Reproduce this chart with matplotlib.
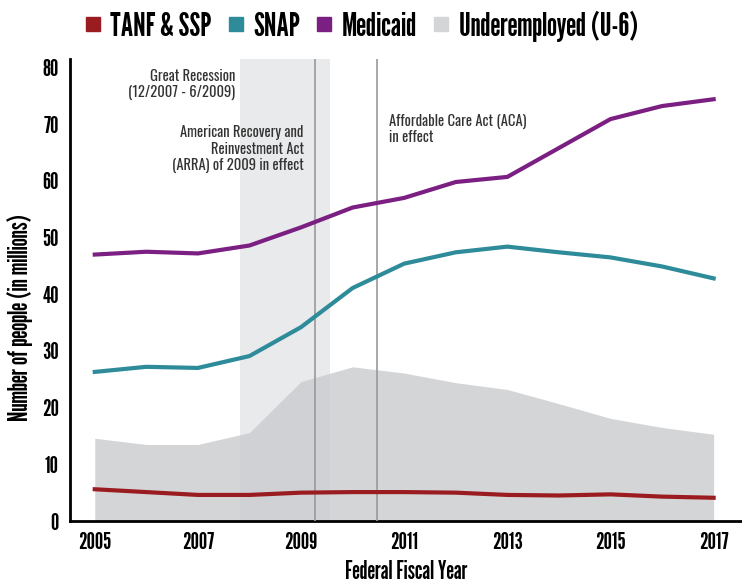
import matplotlib.pyplot as plt
from matplotlib.lines import Line2D
import numpy as np

years = np.arange(2005, 2018)
tanf = [5.6, 5.1, 4.6, 4.6, 5.0, 5.1, 5.1, 5.0, 4.6, 4.5, 4.7, 4.3, 4.1]
snap = [26.3, 27.2, 27.0, 29.1, 34.2, 41.1, 45.4, 47.4, 48.4, 47.4, 46.5, 44.9, 42.8]
medicaid = [47.0, 47.5, 47.2, 48.6, 51.8, 55.3, 57.0, 59.8, 60.7, 65.8, 70.9, 73.2, 74.4]
u6 = [14.6, 13.5, 13.5, 15.6, 24.6, 27.2, 26.1, 24.4, 23.2, 20.7, 18.1, 16.5, 15.3]

recession = (2007.81, 2009.57)
arra_line = 2009.28
aca_line = 2010.47

c_tanf = '#9b1c20'
c_snap = '#2e8b9a'
c_med = '#7b1f82'
c_u6 = '#d4d5d7'

head = ['League Gothic', 'Oswald', 'DejaVu Sans']
plt.rcParams['font.family'] = ['Oswald', 'DejaVu Sans']

fig = plt.figure(figsize=(7.42, 5.84), dpi=100)
ax = fig.add_axes([70/742, 1 - 521/584, 1 - 70/742, 462/584])

ax.fill_between(years, 0, u6, color=c_u6, lw=0, zorder=1)
ax.axvspan(recession[0], recession[1], color='#c9ccd0', alpha=0.4, lw=0, zorder=2)
ax.axvline(arra_line, color='#999999', lw=1.2, zorder=3)
ax.axvline(aca_line, color='#999999', lw=1.2, zorder=3)

ax.plot(years, tanf, color=c_tanf, lw=3, zorder=4)
ax.plot(years, snap, color=c_snap, lw=3, zorder=4)
ax.plot(years, medicaid, color=c_med, lw=3, zorder=4)

ax.set_xlim(2004.52, 2017.55)
ax.set_ylim(0, 81.5)
ax.set_yticks(np.arange(0, 81, 10))
ax.set_xticks(np.arange(2005, 2018, 2))
ax.tick_params(length=0, pad=8)
for lbl in ax.get_xticklabels() + ax.get_yticklabels():
    lbl.set_family(head)
    lbl.set_fontsize(17)
for s in ['top', 'right']:
    ax.spines[s].set_visible(False)
for s in ['left', 'bottom']:
    ax.spines[s].set_linewidth(2)

ax.set_xlabel('Federal Fiscal Year', fontsize=17.5, family=head, labelpad=5)
ax.set_ylabel('Number of people (in millions)', fontsize=19, family=head)
ax.yaxis.set_label_coords(-0.055, 0.44)

ax.text(2007.73, 79.8, 'Great Recession\n(12/2007 - 6/2009)', ha='right', va='top',
        fontsize=10.5, fontweight='light', color='#333333', linespacing=1.1)
ax.text(2009.05, 69.8, 'American Recovery and\nReinvestment Act\n(ARRA) of 2009 in effect',
        ha='right', va='top', fontsize=10.5, fontweight='light', color='#333333', linespacing=1.1)
ax.text(2010.7, 71.8, 'Affordable Care Act (ACA)\nin effect', ha='left', va='top',
        fontsize=10.5, fontweight='light', color='#333333', linespacing=1.1)

handles = [Line2D([], [], ls='', marker='s', markersize=9.5, color=c) for c in [c_tanf, c_snap, c_med, c_u6]]
labels = ['TANF & SSP', 'SNAP', 'Medicaid', 'Underemployed (U-6)']
fig.legend(handles, labels, loc='center left', bbox_to_anchor=(56/742, 1 - 26/584), ncol=4, frameon=False,
           prop={'size': 23, 'family': head}, handletextpad=0.3, columnspacing=0.5, handlelength=0.5)

plt.savefig('out.png', dpi=100)
